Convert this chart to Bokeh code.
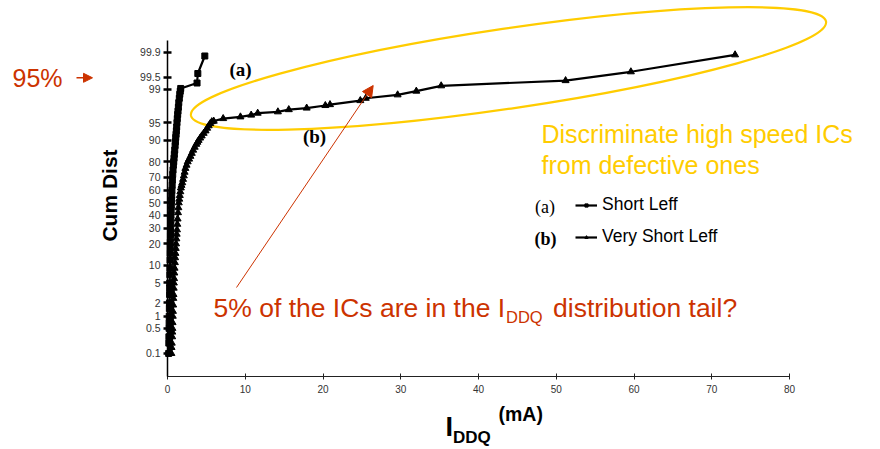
import math
from statistics import NormalDist
from bokeh.plotting import figure
from bokeh.models import (Range1d, LinearAxis, FixedTicker, Label, Arrow, NormalHead,
                          Legend, LegendItem)
from bokeh.embed import file_html
from bokeh.resources import INLINE

# ---------------- data (IDDQ in mA, cumulative distribution in %) ----------------
short_leff_iddq = [0.15, 0.17, 0.18, 0.20, 0.21, 0.22, 0.24, 0.25, 0.27, 0.28, 0.29, 0.30,
                   0.31, 0.33, 0.34, 0.35, 0.36, 0.38, 0.39, 0.41, 0.43, 0.45, 0.47, 0.49,
                   0.52, 0.54, 0.57, 0.60, 0.63, 0.67, 0.71, 0.76, 0.80, 0.84, 0.88, 0.93,
                   0.98, 1.02, 1.06, 1.10, 1.14, 1.18, 1.22, 1.26, 1.31, 1.35, 1.40, 1.45,
                   1.52, 1.58, 1.64, 1.70, 3.8, 3.9, 4.8]
short_leff_cum = [0.1, 0.2, 0.3, 0.5, 0.7, 1, 1.5, 2, 3, 4, 5, 7,
                  9, 12, 15, 18, 21, 25, 28, 32, 36, 40, 44, 48,
                  52, 56, 60, 64, 68, 72, 75, 78, 80, 82, 84, 86,
                  88, 89.5, 91, 92, 93, 94, 95, 95.8, 96.5, 97, 97.5, 98,
                  98.4, 98.7, 98.9, 99.05, 99.3, 99.6, 99.87]

very_short_iddq = [0.50, 0.52, 0.55, 0.60, 0.62, 0.63, 0.65, 0.68, 0.70, 0.73, 0.75, 0.77,
                   0.80, 0.82, 0.85, 0.88, 0.91, 0.95, 0.98, 1.02, 1.06, 1.10, 1.14, 1.18,
                   1.22, 1.26, 1.30, 1.35, 1.40, 1.45, 1.51, 1.58, 1.65, 1.72, 1.80, 1.90,
                   2.00, 2.10, 2.20, 2.30, 2.45, 2.60, 2.78, 2.95, 3.12, 3.30, 3.50, 3.70,
                   3.85, 4.00, 4.20, 4.40, 4.65, 4.90, 5.10, 5.30, 5.50, 5.70, 5.95,
                   7.16, 9.38, 10.76, 11.6, 14.2, 15.6, 17.9, 20.3, 20.9, 24.8, 25.5,
                   29.6, 32.0, 35.2, 51.2, 59.6, 73.0]
very_short_cum = [0.1, 0.15, 0.2, 0.3, 0.4, 0.5, 0.7, 1, 1.3, 1.8, 2.5, 3,
                  4, 5, 6, 7.5, 9, 11, 13, 15, 17.5, 20, 23, 26,
                  29, 33, 37, 42, 46, 50, 53, 56, 59, 62, 64, 66,
                  68.5, 71, 73.5, 76, 78, 80, 81.5, 83, 84.5, 86, 87.3, 88.5,
                  89.3, 90, 90.8, 91.5, 92.3, 93, 93.7, 94.3, 94.8, 95.2, 95.3,
                  95.8, 96.1, 96.4, 96.7, 96.9, 97.2, 97.4, 97.7, 97.8, 98.2, 98.4,
                  98.66, 98.9, 99.18, 99.39, 99.64, 99.88]

y_tick_pct = [0.1, 0.5, 1, 2, 5, 10, 20, 30, 40, 50, 60, 70, 80, 90, 95, 99, 99.5, 99.9]
y_tick_labels = ["0.1", "0.5", "1", "2", "5", "10", "20", "30", "40", "50", "60", "70",
                 "80", "90", "95", "99", "99.5", "99.9"]
x_ticks = [0, 10, 20, 30, 40, 50, 60, 70, 80]

# ---------------- layout helpers (page pixels -> data) ----------------
W, H = 880, 449
X0PX, XPX = 167.0, 7.775     # pixel of x=0, pixels per mA
Z0PX, ZPX = 202.3, 48.75     # pixel of 50 %, pixels per normal-quantile unit


def px_x(px):
    return (px - X0PX) / XPX


def px_y(py):
    return (Z0PX - py) / ZPX


_nd = NormalDist()


def probit(pct):
    return _nd.inv_cdf(pct / 100.0)


RED = "#CC3300"
YEL = "#FFCC00"
SANS = "Liberation Sans"
SERIF = "Liberation Serif"

p = figure(width=W, height=H,
           x_range=Range1d(px_x(0), px_x(W)), y_range=Range1d(px_y(H), px_y(0)),
           x_axis_type=None, y_axis_type=None,
           output_backend="svg", toolbar_location=None, min_border=0)
p.outline_line_color = None
p.background_fill_color = "white"
p.border_fill_color = "white"

# ---------------- axes ----------------
y_ticks = [probit(v) for v in y_tick_pct]
yaxis = LinearAxis(fixed_location=0, bounds=(px_y(376), px_y(40)),
                   ticker=FixedTicker(ticks=y_ticks))
yaxis.major_label_overrides = {t: s for t, s in zip(y_ticks, y_tick_labels)}
yaxis.axis_line_width = 1.5
yaxis.axis_line_color = "black"
yaxis.major_tick_in = 4
yaxis.major_tick_out = 4
yaxis.major_tick_line_width = 2.5
yaxis.major_tick_line_color = "black"
yaxis.minor_tick_line_color = None
yaxis.major_label_standoff = 3
yaxis.major_label_text_font = SANS
yaxis.major_label_text_font_size = "10.5px"
yaxis.major_label_text_color = "#333333"
p.add_layout(yaxis, "left")

xaxis = LinearAxis(fixed_location=px_y(376), bounds=(0, 80),
                   ticker=FixedTicker(ticks=x_ticks))
xaxis.axis_line_width = 1.2
xaxis.axis_line_color = "#222222"
xaxis.major_tick_in = 3
xaxis.major_tick_out = 3
xaxis.major_tick_line_width = 1
xaxis.major_tick_line_color = "#222222"
xaxis.minor_tick_line_color = None
xaxis.major_label_standoff = 5
xaxis.major_label_text_font = SANS
xaxis.major_label_text_font_size = "10px"
xaxis.major_label_text_color = "#333333"
p.add_layout(xaxis, "below")

# ---------------- highlight ellipse ----------------
p.ellipse(x=[px_x(508)], y=[px_y(68)], width=642, height=80,
          width_units="screen", height_units="screen",
          angle=math.radians(8.4), fill_color=None, line_color=YEL, line_width=2.2)

# ---------------- data series ----------------
ya = [probit(v) for v in short_leff_cum]
yb = [probit(v) for v in very_short_cum]
la = p.line(short_leff_iddq, ya, line_color="black", line_width=2.2)
ma = p.scatter(short_leff_iddq, ya, marker="square", size=6, fill_color="black",
               line_color="black")
lb = p.line(very_short_iddq, yb, line_color="black", line_width=2.2)
mb = p.scatter(very_short_iddq, yb, marker="triangle", size=7, fill_color="black",
               line_color="black")

legend = Legend(items=[LegendItem(label="Short Leff", renderers=[la, ma]),
                       LegendItem(label="Very Short Leff", renderers=[lb, mb])],
                location=(575, 202), orientation="vertical",
                glyph_width=22, glyph_height=8, label_height=20, spacing=11,
                padding=0, margin=0, label_standoff=5,
                label_text_font=SANS, label_text_font_size="17.5px",
                label_text_color="black",
                border_line_color=None, background_fill_alpha=0)
p.add_layout(legend)


def lab(px, py, text, size, color="black", font=SANS, style="normal",
        align="left", angle=0.0):
    """Text whose visual middle sits at page pixel (px, py)."""
    p.add_layout(Label(x=px_x(px), y=px_y(py), text=text, text_font=font,
                       text_font_size=size, text_color=color, text_font_style=style,
                       text_align=align, text_baseline="middle", angle=angle))


# legend prefixes
lab(544.5, 206, "(a)", "18px", font=SERIF, align="center")
lab(545, 238.5, "(b)", "18px", font=SERIF, style="bold", align="center")

# curve labels
lab(240, 68.5, "(a)", "19px", font=SERIF, style="bold", align="center")
lab(314, 136, "(b)", "19px", font=SERIF, style="bold", align="center")

# y axis title
lab(109, 195, "Cum Dist", "21px", style="bold", align="center", angle=math.pi / 2)

# x axis title: I_DDQ (mA)
lab(445, 426.5, "I", "27px", style="bold")
lab(452.5, 437.4, "DDQ", "17px", style="bold")
lab(498, 413.5, "(mA)", "19.5px", style="bold")

# 95% marker
lab(12, 77.3, "95%", "25px", color=RED)
p.add_layout(Arrow(x_start=px_x(76), y_start=px_y(77.3), x_end=px_x(92), y_end=px_y(77.3),
                   line_color=RED, line_width=1.5,
                   end=NormalHead(size=9, fill_color=RED, line_color=RED)))

# yellow annotation
lab(541, 133, "Discriminate high speed ICs", "25px", color=YEL)
lab(541, 164.5, "from defective ones", "25px", color=YEL)

# red annotation
lab(213, 307.4, "5% of the ICs are in the I", "26.5px", color=RED)
lab(505.5, 316.5, "DDQ", "16.5px", color=RED)
lab(552.5, 307.4, "distribution tail?", "26.5px", color=RED)
p.add_layout(Arrow(x_start=px_x(236), y_start=px_y(287), x_end=px_x(372.7), y_end=px_y(85),
                   line_color=RED, line_width=1,
                   end=NormalHead(size=11, fill_color=RED, line_color=RED)))

open("out.html", "w").write(file_html(p, INLINE))
